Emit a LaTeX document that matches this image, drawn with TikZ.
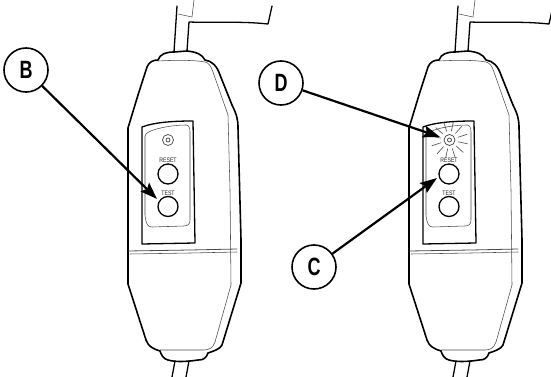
\documentclass[tikz,border=0pt]{standalone}
\usepackage{fontspec}
\setmainfont{Liberation Sans}
\usetikzlibrary{arrows.meta}
\tikzset{
  heavy/.style={line width=1.6pt,black,line join=round,line cap=round},
  medium/.style={line width=1.3pt,black,line join=round,line cap=round},
  fine/.style={line width=0.55pt,black!70,line join=round,line cap=round},
  callout/.style={circle,draw=black,line width=1.6pt,minimum size=44pt,inner sep=0pt,fill=white,font=\bfseries\fontsize{25}{25}\selectfont},
  leader/.style={line width=2.2pt,black,-{Stealth[length=17pt,width=12pt,inset=3pt]}},
  keyring/.style={circle,draw=black,line width=1.3pt,minimum size=20pt,inner sep=0pt},
  keytext/.style={inner sep=0pt,font=\fontsize{6.5}{6.5}\selectfont,black!85},
  ledring/.style={circle,draw=black!75,line width=0.7pt,minimum size=10pt,inner sep=0pt},
  device/.pic={
    % cable and branch
    \draw[medium] (177,6) -- (174,52);
    \draw[medium] (272,6) -- (268,24) .. controls (240,21) and (215,23) .. (189,22) -- (187,51);
    \draw[fine] (178,14) -- (192,17) -- (194,0);
    % body
    \draw[heavy] (158,60) .. controls (160,54) and (166,52) .. (174,52)
      -- (187,51) .. controls (196,52) and (202,54) .. (205,60)
      .. controls (212,61) and (217,66) .. (220,75)
      -- (232,105) .. controls (237,115) and (238,120) .. (238,128)
      -- (241,240) -- (241,283) -- (222,345)
      .. controls (220,349) and (214,351) .. (208,353)
      .. controls (206,358) and (204,360) .. (198,360)
      .. controls (185,362) and (175,362) .. (168,360)
      .. controls (163,359) and (161,354) .. (160,351)
      .. controls (153,349) and (148,346) .. (146,340)
      -- (128,284) -- (128,128) -- (138,95) -- (147,67)
      .. controls (149,62) and (153,60) .. (158,60) -- cycle;
    % inner contour
    \draw[fine] (158,61) .. controls (175,60) and (195,60) .. (205,62)
      .. controls (209,63) and (211,66) .. (213,72) -- (228,115) -- (230,190) -- (231,285) -- (215,342)
      .. controls (213,348) and (209,350) .. (204,350) -- (160,350);
    % seam
    \draw[fine,line width=.8pt] (128,251) -- (190,250) -- (237,249);
    \draw[fine] (130,254) -- (190,253) -- (237,252);
    % panel
    \draw[medium] (142,244) -- (142,127) .. controls (155,122) and (175,121) .. (193,121) -- (195,243) -- cycle;
    \draw[fine] (145,215) -- (145,136) .. controls (145,130) and (170,125) .. (186,125)
       .. controls (189,125) and (190,128) .. (190,132) -- (190,220)
       .. controls (190,224) and (188,226) .. (184,226) -- (152,227)
       .. controls (148,227) and (146,225) .. (145,215);
  }
}
\begin{document}
\begin{tikzpicture}[x=1pt,y=-1pt]
\useasboundingbox (0,0) rectangle (551,377);
\fill[white] (0,0) rectangle (551,377);
\pic at (0,0) {device};
\pic at (281,0) {device};
% bottom cable stubs
\draw[medium] (175,361) -- (172,377);
\draw[medium] (189,361) -- (186,377);
\draw[medium] (456,361) -- (453,377);
\draw[medium] (470,361) -- (467,377);
% left controls
\node[ledring,minimum size=11pt] (ledL) at (168,140) {};
\node[ledring,minimum size=4pt] (ledLi) at (168,140) {};
\node[keytext] (resetL) at (168,160.5) {\scalebox{.8}[1]{RESET}};
\node[keyring] (btnRL) at (168,174) {};
\node[keytext] (testL) at (168,193) {\scalebox{.8}[1]{TEST}};
\node[keyring] (btnTL) at (168,206.5) {};
% right controls
\node[ledring,minimum size=11pt] (ledR) at (449.5,140) {};
\node[ledring,minimum size=4pt] (ledRi) at (449.5,140) {};
\node[keytext] (resetR) at (449,160.5) {\scalebox{.8}[1]{RESET}};
\node[keyring] (btnRR) at (449,174) {};
\node[keytext] (testR) at (449,193) {\scalebox{.8}[1]{TEST}};
\node[keyring] (btnTR) at (449,206.5) {};
% rays
\foreach \a in {0,30,...,330}{
  \draw[fine,line width=.6pt] (ledR) ++(\a+12:9) -- ++(\a+12:9.5);
}
% callouts
\node[callout] (B) at (26,70) {\scalebox{.72}[1]{B}};
\node[callout] (D) at (281,83) {\scalebox{.72}[1]{D}};
\node[callout] (C) at (314,267) {\scalebox{.72}[1]{C}};
\coordinate (tipB) at (157,199);
\coordinate (tipD) at (440,137);
\coordinate (tipC) at (437,178);
\draw[leader] (B) -- (tipB);
\draw[leader] (D) -- (tipD);
\draw[leader] (C) -- (tipC);
\end{tikzpicture}
\end{document}
